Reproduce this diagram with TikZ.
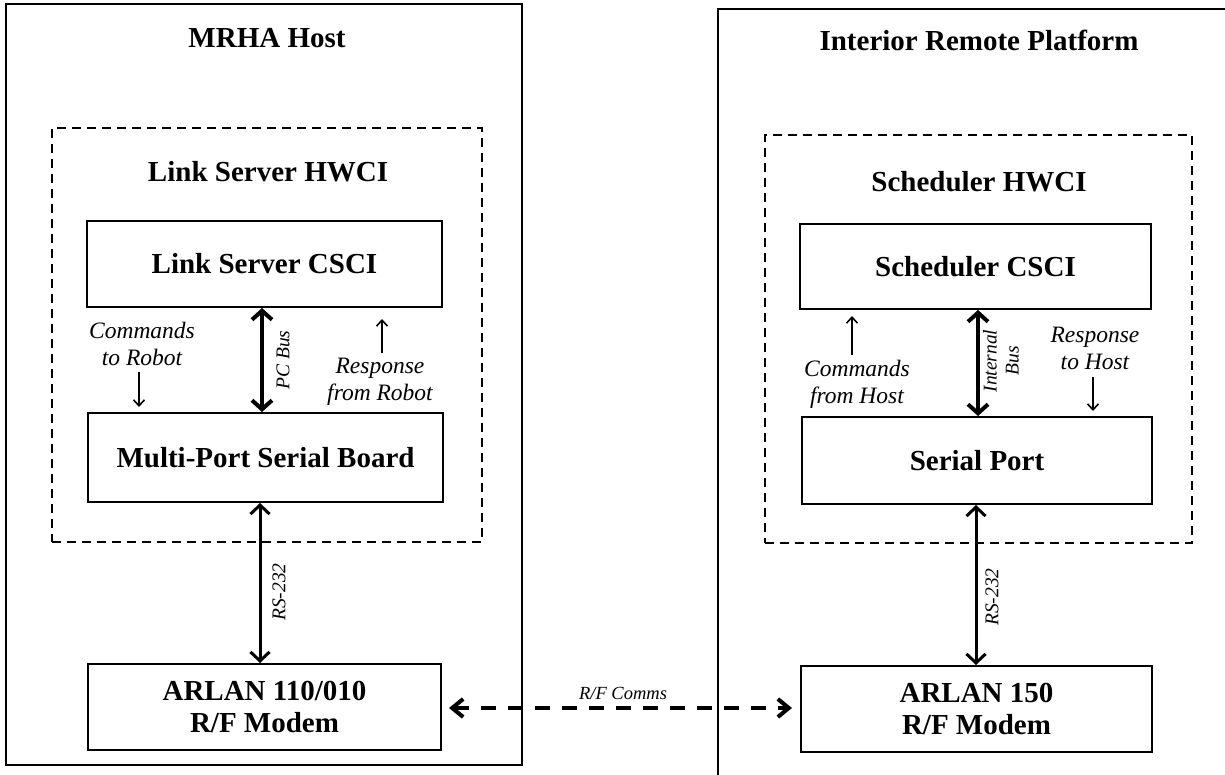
\documentclass[tikz,border=0pt]{standalone}
\usepackage{fontspec}
\setmainfont{Liberation Serif}
\usetikzlibrary{arrows.meta}
\begin{document}
\begin{tikzpicture}[x=1pt,y=-1pt,
  boxlbl/.style={font=\fontsize{29}{32}\selectfont\bfseries, align=center},
  blk/.style={draw, line width=2pt, inner sep=0pt, boxlbl},
  outerbox/.style={draw, line width=1.6pt, inner sep=0pt},
  hwbox/.style={draw, dash pattern=on 9pt off 6pt, line width=1.6pt, inner sep=0pt},
  ann/.style={font=\fontsize{23.5}{27}\selectfont\itshape, align=center, inner sep=0pt},
  buslbl/.style={font=\fontsize{19.5}{22}\selectfont\itshape, align=center, rotate=90, inner sep=0pt},
  bus/.style={line width=4pt, {Straight Barb[length=9pt,width=20pt]}-{Straight Barb[length=9pt,width=20pt]}},
  serial/.style={line width=3pt, {Straight Barb[length=9pt,width=19pt]}-{Straight Barb[length=9pt,width=19pt]}},
  annarrow/.style={line width=1.6pt, -{Straight Barb[length=6pt,width=11pt]}},
  rf/.style={line width=4pt, dash pattern=on 15pt off 12pt, {Straight Barb[length=11pt,width=18pt]}-{Straight Barb[length=11pt,width=18pt]}}
]
\useasboundingbox (0,0) rectangle (1225,775);
\clip (0,0) rectangle (1225,775);
\fill[white] (0,0) rectangle (1225,775);

% ---------- left side ----------
\node[outerbox, minimum width=516pt, minimum height=761pt] (outerL) at (264,384.5) {};
\node[boxlbl] (titleL) at (267,38) {MRHA Host};
\node[hwbox, minimum width=430pt, minimum height=414pt] (hwL) at (267,335) {};
\node[boxlbl] (hwLlbl) at (268,172) {Link Server HWCI};
\node[blk, minimum width=355pt, minimum height=86pt] (csciL) at (264.5,264) {Link Server CSCI};
\node[blk, minimum width=355pt, minimum height=89pt] (mpsb) at (265.5,457.5) {Multi-Port Serial Board};
\node[blk, minimum width=353pt, minimum height=86pt] (arlanL) at (264.5,707) {ARLAN 110/010\\R/F Modem};

\coordinate (pcx) at (262,0);
\draw[bus] (csciL.south -| pcx) -- (mpsb.north -| pcx);
\node[buslbl] (pclbl) at (283,360) {PC Bus};

\coordinate (rslx) at (260,0);
\draw[serial] (mpsb.south -| rslx) -- (arlanL.north -| rslx);
\node[buslbl] (rsllbl) at (279,592) {RS-232};

\node[ann] (cmdL) at (142,344) {Commands\\to Robot};
\coordinate (cmdLa) at (139,372);
\coordinate (cmdLb) at (139,407);
\draw[annarrow] (cmdLa) -- (cmdLb);

\node[ann] (rspL) at (380,381.5) {Response\\from Robot};
\coordinate (rspLa) at (382,353);
\coordinate (rspLb) at (382,319);
\draw[annarrow] (rspLa) -- (rspLb);

% ---------- right side ----------
\draw[line width=1.6pt] (718,790) -- (718,9) -- (1240,9);
\node[boxlbl] (titleR) at (979,40) {Interior Remote Platform};
\node[hwbox, minimum width=427pt, minimum height=408pt] (hwR) at (978.5,339) {};
\node[boxlbl] (hwRlbl) at (979,182) {Scheduler HWCI};
\node[blk, minimum width=351pt, minimum height=85pt] (csciR) at (975.5,266.5) {Scheduler CSCI};
\node[blk, minimum width=350pt, minimum height=87pt] (sport) at (977,460.5) {Serial Port};
\node[blk, minimum width=351pt, minimum height=86pt] (arlanR) at (976.5,709) {ARLAN 150\\R/F Modem};

\coordinate (ibx) at (978,0);
\draw[bus] (csciR.south -| ibx) -- (sport.north -| ibx);
\node[buslbl] (iblbl) at (1001,361) {Internal\\Bus};

\coordinate (rsrx) at (976,0);
\draw[serial] (sport.south -| rsrx) -- (arlanR.north -| rsrx);
\node[buslbl] (rsrlbl) at (992,597) {RS-232};

\node[ann] (cmdR) at (857,384) {Commands\\from Host};
\coordinate (cmdRa) at (852,355);
\coordinate (cmdRb) at (852,316);
\draw[annarrow] (cmdRa) -- (cmdRb);

\node[ann] (rspR) at (1095,348) {Response\\to Host};
\coordinate (rspRa) at (1093,377);
\coordinate (rspRb) at (1093,411);
\draw[annarrow] (rspRa) -- (rspRb);

% ---------- R/F link ----------
\coordinate (rfy) at (0,708);
\draw[rf] ([xshift=7pt]arlanL.east |- rfy) -- ([xshift=-8pt]arlanR.west |- rfy);
\node[font=\fontsize{18.5}{20}\selectfont\itshape, inner sep=0pt] (rflbl) at (623,693) {R/F Comms};
\end{tikzpicture}
\end{document}
